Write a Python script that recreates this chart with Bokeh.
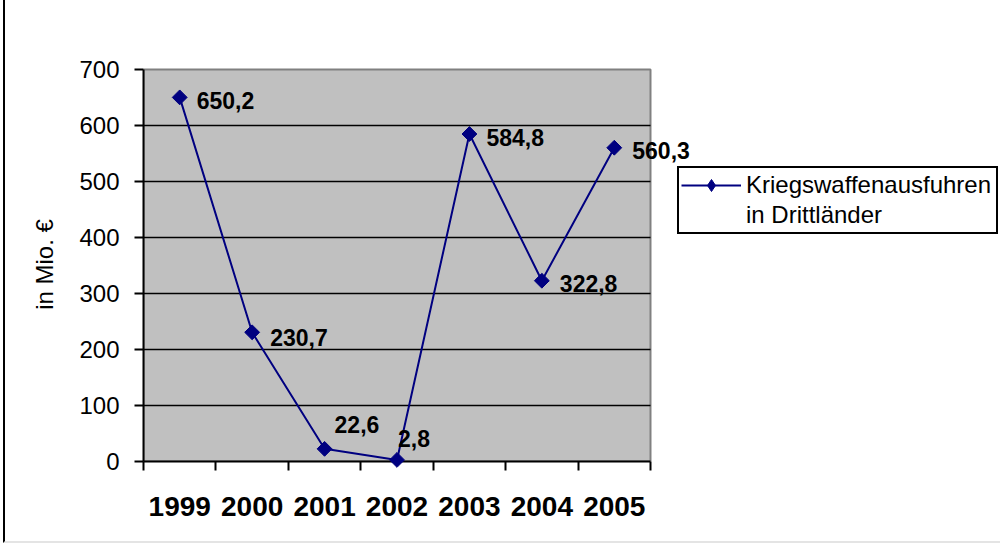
import math
from bokeh.plotting import figure
from bokeh.models import (ColumnDataSource, FixedTicker, LabelSet, Legend,
                          LegendItem, Range1d)
from bokeh.core.properties import value
from bokeh.embed import file_html
from bokeh.resources import INLINE

# ---- data ----
years = ["1999", "2000", "2001", "2002", "2003", "2004", "2005"]
values = [650.2, 230.7, 22.6, 2.8, 584.8, 322.8, 560.3]
y_ticks = [0, 100, 200, 300, 400, 500, 600, 700]
series_name_lines = ["Kriegswaffenausfuhren", "in Drittländer"]
y_title = "in Mio. €"

# ---- style / layout ----
FONT = "Liberation Sans"
NAVY = "#000080"
label_dx = [17, 18, 10, 1, 17, 18, 18]
label_dy = [-3, -5, 24, 21, -3, -3, -3]

CANVAS_W, CANVAS_H = 997, 543        # page offset 5px (outer frame line)
FRAME_LEFT, FRAME_TOP, FRAME_BOTTOM = 138, 67, 461
PLOT_AREA_W = 507                    # width of the grey plot area in px
TOP_PAD_PX = 2

xs = list(range(len(years)))
x_lo, x_hi = xs[0] - 0.5, xs[-1] + 0.5
frame_w = CANVAS_W - FRAME_LEFT
x_end = x_lo + (x_hi - x_lo) * frame_w / PLOT_AREA_W
px_per_unit_y = (FRAME_BOTTOM - FRAME_TOP - TOP_PAD_PX) / (y_ticks[-1] - y_ticks[0])
y_end = y_ticks[-1] + TOP_PAD_PX / px_per_unit_y

value_labels = [f"{v:.1f}".replace(".", ",") for v in values]
src = ColumnDataSource(dict(x=xs, y=values, label=value_labels,
                            dx=label_dx, dy=label_dy))

p = figure(width=CANVAS_W, height=CANVAS_H,
           x_range=Range1d(x_lo, x_end),
           y_range=Range1d(y_ticks[0], y_end),
           output_backend="svg", toolbar_location=None,
           min_border_left=FRAME_LEFT, min_border_right=0,
           min_border_top=FRAME_TOP, min_border_bottom=CANVAS_H - FRAME_BOTTOM,
           background_fill_color="white", border_fill_color="white",
           outline_line_color=None)
p.styles = {"margin-left": "3px", "border-left": "2px solid black",
            "border-bottom": "2px solid #e4e4e4"}

p.xgrid.visible = False
p.ygrid.visible = False

# grey plot area
p.quad(left=x_lo, right=x_hi, bottom=y_ticks[0], top=y_ticks[-1],
       fill_color="#C0C0C0", line_color="#808080", line_width=2)
# horizontal gridlines
grid_y = y_ticks[1:-1]
p.segment(x0=[x_lo] * len(grid_y), x1=[x_hi] * len(grid_y), y0=grid_y, y1=grid_y,
          line_color="black", line_width=1.5)

# x axis: labels at category centres, tick marks at boundaries
xa = p.xaxis[0]
xa.bounds = (x_lo, x_hi)
xa.ticker = FixedTicker(ticks=xs, minor_ticks=[x - 0.5 for x in xs] + [x_hi])
xa.major_label_overrides = {x: y for x, y in zip(xs, years)}
xa.major_tick_line_color = None
xa.major_tick_out = 9
xa.major_tick_in = 0
xa.minor_tick_out = 9
xa.minor_tick_in = 0
xa.minor_tick_line_color = "black"
xa.minor_tick_line_width = 2
xa.axis_line_color = "black"
xa.axis_line_width = 2
xa.major_label_text_font = FONT
xa.major_label_text_font_size = "28px"
xa.major_label_text_font_style = "bold"
xa.major_label_text_color = "black"
xa.major_label_standoff = 26

ya = p.yaxis[0]
ya.bounds = (y_ticks[0], y_ticks[-1])
ya.ticker = FixedTicker(ticks=y_ticks)
ya.major_tick_out = 9
ya.major_tick_in = 0
ya.major_tick_line_width = 2
ya.major_tick_line_color = "black"
ya.minor_tick_line_color = None
ya.axis_line_color = "black"
ya.axis_line_width = 2
ya.major_label_text_font = FONT
ya.major_label_text_font_size = "24px"
ya.major_label_text_color = "black"
ya.major_label_standoff = 15
ya.axis_label = y_title
ya.axis_label_text_font = FONT
ya.axis_label_text_font_size = "24px"
ya.axis_label_text_font_style = "normal"
ya.axis_label_text_color = "black"
ya.axis_label_standoff = 18

# data
line_r = p.line("x", "y", source=src, line_color=NAVY, line_width=2)
mark_r = p.scatter("x", "y", source=src, marker="square", angle=math.pi / 4,
                   size=10.5, fill_color=NAVY, line_color=NAVY, level="overlay")
# legend-only marker (diamond sample), not drawn in the plot
legend_mark = p.scatter("x", "y", source=src, marker="diamond", size=14,
                        fill_color=NAVY, line_color=NAVY, visible=False)

labels = LabelSet(x="x", y="y", text="label", source=src,
                  x_offset="dx", y_offset="dy",
                  text_font=value(FONT), text_font_size="23px",
                  text_font_style="bold", text_color="black",
                  text_align="left", text_baseline="middle")
p.add_layout(labels)

legend = Legend(items=[LegendItem(label=series_name_lines[0],
                                  renderers=[line_r, legend_mark]),
                       LegendItem(label=series_name_lines[1], renderers=[])],
                location=(677 - 5 - FRAME_LEFT, FRAME_BOTTOM - 234),
                border_line_color="black", border_line_width=2,
                border_line_alpha=1,
                background_fill_color="white", background_fill_alpha=1,
                inactive_fill_alpha=0,
                label_text_font=FONT, label_text_font_size="24px",
                label_text_color="black", label_text_baseline="middle",
                glyph_width=60, glyph_height=30, label_height=30,
                label_width=248, label_standoff=5,
                margin=0, padding=2, spacing=0)
p.add_layout(legend)

open("out.html", "w").write(file_html(p, INLINE))
